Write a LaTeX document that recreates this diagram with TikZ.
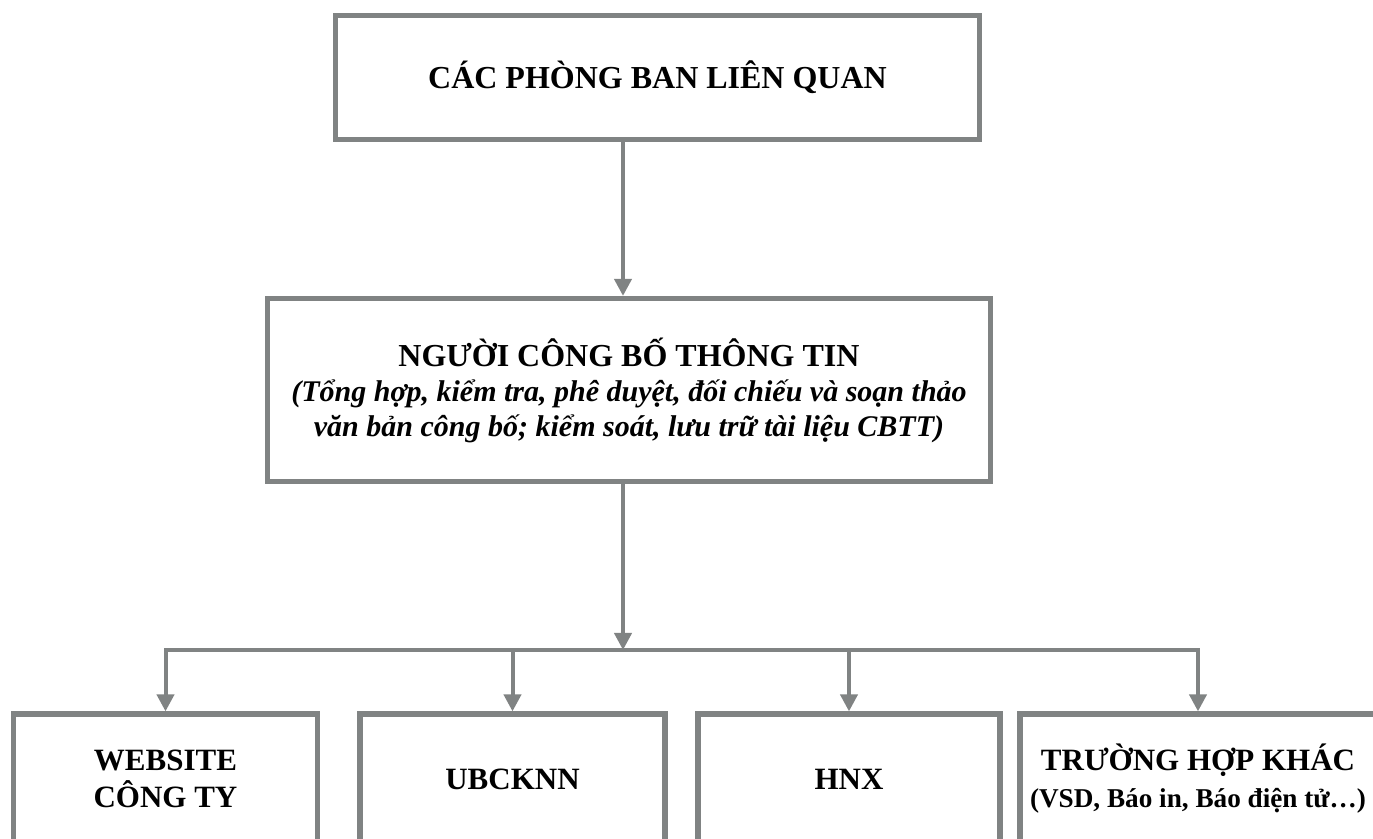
\documentclass[tikz,border=0pt]{standalone}
\usepackage{fontspec}
\setmainfont{Liberation Serif}
\usetikzlibrary{arrows.meta}
\definecolor{framegray}{RGB}{128,131,131}
\newcommand{\framewidth}{2.6pt}

\begin{document}
\begin{tikzpicture}[x=0.5pt,y=-0.5pt,
    box/.style={draw=framegray, line width=\framewidth, rectangle, inner sep=0pt, align=center,
      font=\bfseries\fontsize{16}{17.5}\selectfont},
    lowbox/.style={box, minimum height=65pt, font=\bfseries\fontsize{15.5}{18.5}\selectfont},
    link/.style={draw=framegray, line width=2pt, -{Triangle[width=8.5pt,length=8.5pt]}},
    bar/.style={draw=framegray, line width=2pt, line cap=rect}]
    \useasboundingbox (0,0) rectangle (1373,839);
    \clip (0,0) rectangle (1373,839);

      \node (phongban) at (657.5,77.5) [box, minimum width=322pt, minimum height=62pt] {CÁC PHÒNG BAN LIÊN QUAN};
      \node (nguoicbtt) at (629,390) [box, minimum width=361.5pt, minimum height=91.5pt]
        {NGƯỜI CÔNG BỐ THÔNG TIN\\
         {\fontsize{15}{17.5}\selectfont\itshape (Tổng hợp, kiểm tra, phê duyệt, đối chiếu và soạn thảo}\\
         {\fontsize{15}{17.5}\selectfont\itshape văn bản công bố; kiểm soát, lưu trữ tài liệu CBTT)}};
      \node (website) at (165.5,779) [lowbox, minimum width=152pt] {WEBSITE\\CÔNG TY};
      \node (ubcknn) at (512.5,779) [lowbox, minimum width=152.5pt] {UBCKNN};
      \node (hnx) at (849,779) [lowbox, minimum width=151pt] {HNX};
      \node (khac) at (1198,779) [lowbox, minimum width=178pt]
        {TRƯỜNG HỢP KHÁC\\{\fontsize{13.6}{18.5}\selectfont (VSD, Báo in, Báo điện tử…)}};
      \coordinate (split) at (623,650);

      \draw[link] (phongban.south -| split) to (nguoicbtt.north -| split);
      \draw[link] (nguoicbtt.south -| split) to (split);
      \draw[bar] (split -| website) to (split -| khac);
      \foreach \b in {website,ubcknn,hnx,khac}
        \draw[link] (split -| \b) to (\b.north);

  \end{tikzpicture}
\end{document}
